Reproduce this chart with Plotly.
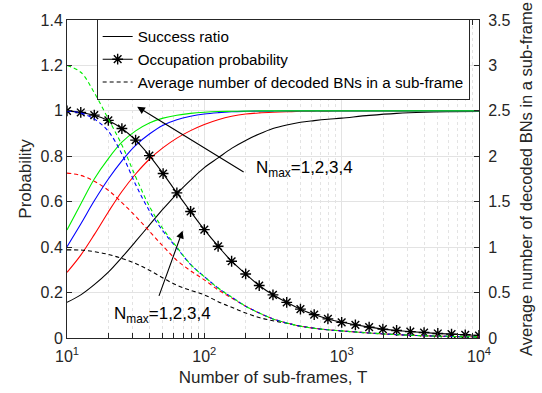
import plotly.graph_objects as go

# ---------------- data ----------------
T_grid = [10, 12.6, 15.8, 20, 25.1, 31.6, 39.8, 50.1, 63.1, 79.4, 100, 126, 158,
          200, 251, 316, 398, 501, 631, 794, 1000, 1585, 2512, 3981, 6310, 10000]

# Success ratio (left axis), N_max = 1..4
succ_n1 = [0.157, 0.190, 0.235, 0.290, 0.355, 0.425, 0.497, 0.568, 0.635, 0.695, 0.750,
           0.793, 0.835, 0.870, 0.898, 0.922, 0.938, 0.950, 0.957, 0.963, 0.968, 0.980,
           0.989, 0.994, 0.996, 0.997]
succ_n2 = [0.289, 0.365, 0.455, 0.555, 0.645, 0.722, 0.787, 0.838, 0.880, 0.913, 0.940,
           0.961, 0.976, 0.986, 0.991, 0.994, 0.996, 0.998, 0.999, 0.999, 1.0, 1.0,
           1.0, 1.0, 1.0, 1.0]
succ_n3 = [0.402, 0.502, 0.604, 0.700, 0.780, 0.848, 0.898, 0.937, 0.961, 0.976, 0.986,
           0.992, 0.996, 0.998, 0.999, 0.999, 1.0, 1.0, 1.0, 1.0, 1.0, 1.0,
           1.0, 1.0, 1.0, 1.0]
succ_n4 = [0.476, 0.590, 0.700, 0.790, 0.862, 0.912, 0.947, 0.968, 0.981, 0.989, 0.994,
           0.997, 0.998, 0.999, 1.0, 1.0, 1.0, 1.0, 1.0, 1.0, 1.0, 1.0,
           1.0, 1.0, 1.0, 1.0]

# Average number of decoded BNs in a sub-frame (right axis), N_max = 1..4
avg_n1 = [0.970, 0.968, 0.950, 0.920, 0.875, 0.820, 0.745, 0.660, 0.580, 0.525, 0.475,
          0.400, 0.338, 0.275, 0.225, 0.190, 0.162, 0.130, 0.107, 0.090, 0.078, 0.055,
          0.037, 0.025, 0.017, 0.012]
avg_n2 = [1.815, 1.790, 1.725, 1.625, 1.490, 1.340, 1.175, 1.010, 0.855, 0.740, 0.640,
          0.530, 0.440, 0.350, 0.275, 0.210, 0.165, 0.130, 0.107, 0.090, 0.078, 0.055,
          0.037, 0.025, 0.017, 0.012]
avg_n3 = [2.500, 2.475, 2.410, 2.275, 2.025, 1.690, 1.400, 1.175, 0.990, 0.810, 0.675,
          0.550, 0.450, 0.350, 0.275, 0.210, 0.165, 0.130, 0.107, 0.090, 0.078, 0.055,
          0.037, 0.025, 0.017, 0.012]
avg_n4 = [3.000, 2.925, 2.700, 2.410, 2.125, 1.775, 1.450, 1.200, 1.000, 0.810, 0.675,
          0.550, 0.450, 0.350, 0.275, 0.210, 0.165, 0.130, 0.107, 0.090, 0.078, 0.055,
          0.037, 0.025, 0.017, 0.012]

# Occupation probability (left axis), marker positions
T_occ = [10, 12.6, 15.8, 20, 25.1, 31.6, 39.8, 50.1, 63.1, 79.4, 100, 126, 158, 200,
         251, 316, 398, 501, 631, 794, 1000, 1259, 1585, 1995, 2512, 3162, 3981,
         5012, 6310, 7943, 10000]
occ = [1.000, 0.993, 0.981, 0.958, 0.922, 0.871, 0.803, 0.724, 0.639, 0.557, 0.477,
       0.404, 0.338, 0.282, 0.231, 0.190, 0.157, 0.127, 0.103, 0.084, 0.069, 0.058,
       0.048, 0.039, 0.033, 0.028, 0.024, 0.020, 0.017, 0.014, 0.011]

x_tickvals = [10, 100, 1000, 10000]
x_ticktext = ["10<sup>1</sup>", "10<sup>2</sup>", "10<sup>3</sup>", "10<sup>4</sup>"]
x_minorvals = [20, 30, 40, 50, 60, 70, 80, 90, 200, 300, 400, 500, 600, 700, 800, 900,
               2000, 3000, 4000, 5000, 6000, 7000, 8000, 9000]

colors = ["#000000", "#ff0000", "#0000ff", "#00ee00"]
succ_all = [succ_n1, succ_n2, succ_n3, succ_n4]
avg_all = [avg_n1, avg_n2, avg_n3, avg_n4]

legend_names = ["Success ratio", "Occupation probability",
                "Average number of decoded BNs in a sub-frame"]
annot_text = "N<sub>max</sub>=1,2,3,4"

FONT = "Liberation Sans, Arial, sans-serif"
AX = "#262626"
DASH = "4px,3px"

fig = go.Figure()

for c, s in zip(colors, succ_all):
    fig.add_trace(go.Scatter(x=T_grid, y=s, mode="lines", line=dict(color=c, width=1.1, shape="spline"),
                             showlegend=False, hoverinfo="skip"))
for c, a in zip(colors, avg_all):
    fig.add_trace(go.Scatter(x=T_grid, y=a, mode="lines", yaxis="y2",
                             line=dict(color=c, width=1.1, dash=DASH, shape="spline"),
                             showlegend=False, hoverinfo="skip"))
fig.add_trace(go.Scatter(x=T_occ, y=occ, mode="lines+markers",
                         line=dict(color="black", width=1.1, shape="spline"),
                         marker=dict(symbol="asterisk", size=9, color="black",
                                     line=dict(color="black", width=1.4)),
                         showlegend=False, hoverinfo="skip"))

# legend entries
fig.add_trace(go.Scatter(x=[None], y=[None], mode="lines", name=legend_names[0],
                         line=dict(color="black", width=1.1)))
fig.add_trace(go.Scatter(x=[None], y=[None], mode="lines+markers", name=legend_names[1],
                         line=dict(color="black", width=1.1),
                         marker=dict(symbol="asterisk", size=9, color="black",
                                     line=dict(color="black", width=1.4))))
fig.add_trace(go.Scatter(x=[None], y=[None], mode="lines", name=legend_names[2],
                         line=dict(color="black", width=1.1, dash=DASH)))

# annotations: arrows + texts (log axis -> x in log10 units)
fig.add_annotation(x=1.511, y=1.018, ax=2.297, ay=0.727, xref="x", yref="y", axref="x", ayref="y",
                   text="", showarrow=True, arrowhead=2, arrowsize=1.4, arrowwidth=1.1,
                   arrowcolor="black", standoff=0)
fig.add_annotation(x=2.36, y=0.745, xref="x", yref="y", text=annot_text, showarrow=False,
                   xanchor="left", yanchor="middle", font=dict(family=FONT, size=17, color="black"))
fig.add_annotation(x=1.842, y=0.4725, ax=1.666, ay=0.179, xref="x", yref="y", axref="x", ayref="y",
                   text="", showarrow=True, arrowhead=2, arrowsize=1.4, arrowwidth=1.1,
                   arrowcolor="black", standoff=0)
fig.add_annotation(x=1.325, y=0.10, xref="x", yref="y", text=annot_text, showarrow=False,
                   xanchor="left", yanchor="middle", font=dict(family=FONT, size=17, color="black"))

fig.update_layout(
    width=542, height=393,
    margin=dict(l=67, r=63, t=20, b=55, pad=0, autoexpand=False),
    paper_bgcolor="white", plot_bgcolor="white",
    font=dict(family=FONT, size=16, color=AX),
    showlegend=True,
    legend=dict(x=0.072, y=1.003, xanchor="left", yanchor="top",
                bgcolor="white", bordercolor=AX, borderwidth=1,
                font=dict(family=FONT, size=15.2, color="black"),
                tracegroupgap=0, itemwidth=30),
    xaxis=dict(type="log", range=[1, 4], tickmode="array", tickvals=x_tickvals, ticktext=x_ticktext,
               automargin=False,
               showline=True, linecolor=AX, linewidth=1, mirror="allticks",
               ticks="inside", ticklen=5, tickcolor=AX, ticklabelstandoff=4,
               showgrid=True, gridcolor="#e3e3e3", gridwidth=1, zeroline=False,
               minor=dict(tickmode="array", tickvals=x_minorvals, ticks="inside", ticklen=3,
                          tickcolor=AX, showgrid=True,
                          gridcolor="#e3e3e3", griddash="dot", gridwidth=1),
               title=dict(text="Number of sub-frames, T", font=dict(size=17, color=AX), standoff=6),
               tickfont=dict(size=16, color=AX)),
    yaxis=dict(range=[0, 1.4], dtick=0.2, showline=True, linecolor=AX, linewidth=1,
               automargin=False,
               ticks="inside", ticklen=5, tickcolor=AX,
               showgrid=True, gridcolor="#e3e3e3", gridwidth=1, zeroline=False,
               title=dict(text="Probability", font=dict(size=17, color=AX), standoff=4),
               tickfont=dict(size=16, color=AX)),
    yaxis2=dict(range=[0, 3.5], dtick=0.5, overlaying="y", side="right", showline=True,
                automargin=False,
                linecolor=AX, linewidth=1, ticks="inside", ticklen=5, tickcolor=AX,
                ticklabelstandoff=5,
                showgrid=False, zeroline=False,
                title=dict(text="Average number of decoded BNs in a sub-frame",
                           font=dict(size=16.5, color=AX), standoff=10),
                tickfont=dict(size=16, color=AX)),
)

fig.write_html("out.html", post_script="document.body.style.margin='0px';",
               config={"displayModeBar": False})
